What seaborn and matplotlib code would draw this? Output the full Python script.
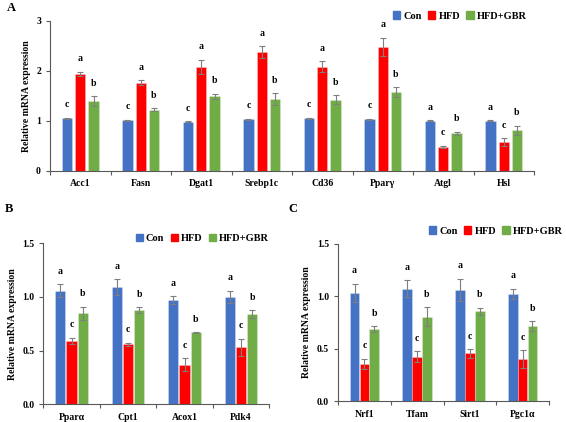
import numpy as np
import pandas as pd
import matplotlib
matplotlib.use("Agg")
import matplotlib.pyplot as plt
import seaborn as sns
from matplotlib.ticker import FixedLocator, FormatStrFormatter

groups = ["Con", "HFD", "HFD+GBR"]
colors = ["#4472C4", "#FF0000", "#70AD47"]

# Panel A
genes_a = ["Acc1", "Fasn", "Dgat1", "Srebp1c", "Cd36", "Ppar\u03b3", "Atgl", "Hsl"]
con_a = [1.05, 1.01, 0.98, 1.03, 1.05, 1.03, 1.00, 1.00]
hfd_a = [1.94, 1.76, 2.08, 2.37, 2.08, 2.48, 0.48, 0.57]
gbr_a = [1.39, 1.22, 1.49, 1.43, 1.42, 1.57, 0.75, 0.81]
con_a_err = [0.01, 0.01, 0.01, 0.01, 0.01, 0.01, 0.01, 0.01]
hfd_a_err = [0.04, 0.05, 0.14, 0.12, 0.11, 0.18, 0.02, 0.08]
gbr_a_err = [0.10, 0.03, 0.05, 0.12, 0.09, 0.10, 0.03, 0.09]
con_a_let = ["c", "c", "c", "c", "c", "c", "a", "a"]
hfd_a_let = ["a", "a", "a", "a", "a", "a", "c", "c"]
gbr_a_let = ["b", "b", "b", "b", "b", "b", "b", "b"]

# Panel B
genes_b = ["Ppar\u03b1", "Cpt1", "Acox1", "Pdk4"]
con_b = [1.06, 1.09, 0.97, 1.00]
hfd_b = [0.59, 0.56, 0.37, 0.53]
gbr_b = [0.85, 0.88, 0.67, 0.84]
con_b_err = [0.06, 0.075, 0.04, 0.06]
hfd_b_err = [0.03, 0.015, 0.06, 0.08]
gbr_b_err = [0.06, 0.025, 0.005, 0.04]

# Panel C
genes_c = ["Nrf1", "Tfam", "Sirt1", "Pgc1\u03b1"]
con_c = [1.03, 1.07, 1.06, 1.02]
hfd_c = [0.355, 0.425, 0.455, 0.40]
gbr_c = [0.685, 0.805, 0.855, 0.715]
con_c_err = [0.09, 0.08, 0.105, 0.05]
hfd_c_err = [0.05, 0.055, 0.04, 0.085]
gbr_c_err = [0.03, 0.09, 0.035, 0.05]

bc_letters = (["a"] * 4, ["c"] * 4, ["b"] * 4)

plt.rcParams['font.family'] = ['Liberation Serif', 'DejaVu Serif']
plt.rcParams['font.weight'] = 'bold'
FS = 7


def make_df(genes, vals, errs):
    rows = []
    for g, v, e in zip(groups, vals, errs):
        for gene, vv, ee in zip(genes, v, e):
            rows.append({"gene": gene, "group": g, "value": vv, "err": ee})
    return pd.DataFrame(rows)


def draw_panel(ax, genes, vals, errs, letters, ymax, yticks, fmt, width, gap, legend_xy):
    df = make_df(genes, vals, errs)
    sns.barplot(data=df, x="gene", y="value", hue="group", order=genes,
                hue_order=groups, palette=colors, errorbar=None,
                width=width, gap=gap, ax=ax, legend=False, saturation=1)
    # error bars and letters, per hue
    for i, (g, v, e, l) in enumerate(zip(groups, vals, errs, letters)):
        cont = ax.containers[i]
        for p in cont.patches:
            p.set_edgecolor((1, 1, 1, 0.35))
            p.set_linewidth(0.5)
        xs = [p.get_x() + p.get_width() / 2 for p in cont.patches]
        ax.errorbar(xs, v, yerr=e, fmt="none", ecolor="#7f7f7f",
                    elinewidth=0.8, capsize=2, capthick=0.8)
        for x, vv, ee, ll in zip(xs, v, e, l):
            ax.annotate(ll, (x, vv + ee), xytext=(0, 6), textcoords="offset points",
                        ha="center", va="bottom", fontsize=FS, fontweight="bold")
    ax.set_ylim(0, ymax)
    ax.set_xlim(-0.5, len(genes) - 0.5)
    ax.set_yticks(yticks)
    ax.yaxis.set_major_formatter(FormatStrFormatter(fmt))
    ax.set_xlabel("")
    ax.set_ylabel("Relative mRNA expression", fontsize=FS, fontweight="bold", labelpad=4)
    ax.tick_params(axis="x", which="major", length=0, labelsize=FS, pad=6)
    ax.xaxis.set_minor_locator(FixedLocator(np.arange(-0.5, len(genes), 1.0)))
    ax.tick_params(axis="x", which="minor", length=3, color="#595959", width=0.8)
    ax.tick_params(axis="y", length=3, labelsize=FS, color="#595959", width=0.8)
    for lab in ax.get_xticklabels() + ax.get_yticklabels():
        lab.set_fontweight("bold")
    sns.despine(ax=ax)
    for s in ["left", "bottom"]:
        ax.spines[s].set_color("#595959")
        ax.spines[s].set_linewidth(0.8)
    handles = [plt.Rectangle((0, 0), 1, 1, color=c) for c in colors]
    ax.legend(handles, groups, loc="lower right", bbox_to_anchor=legend_xy,
              ncol=3, frameon=False, fontsize=7.5, handlelength=0.7,
              handleheight=0.7, handletextpad=0.3, columnspacing=0.6,
              borderaxespad=0, borderpad=0)


W, H = 566, 422
fig = plt.figure(figsize=(W / 100, H / 100), dpi=100)
fig.patch.set_facecolor("white")

axA = fig.add_axes([50 / W, (H - 170.7) / H, 484 / W, 150 / H])
draw_panel(axA, genes_a, [con_a, hfd_a, gbr_a], [con_a_err, hfd_a_err, gbr_a_err],
           [con_a_let, hfd_a_let, gbr_a_let], 3, [0, 1, 2, 3], "%d", 0.66, 0.22,
           (0.985, 1.0))

axB = fig.add_axes([43.3 / W, (H - 404.3) / H, 226 / W, 161 / H])
draw_panel(axB, genes_b, [con_b, hfd_b, gbr_b], [con_b_err, hfd_b_err, gbr_b_err],
           bc_letters, 1.5, [0, 0.5, 1.0, 1.5], "%.1f", 0.6, 0.1, (1.0, 1.0))

axC = fig.add_axes([338 / W, (H - 401.3) / H, 211 / W, 157.7 / H])
draw_panel(axC, genes_c, [con_c, hfd_c, gbr_c], [con_c_err, hfd_c_err, gbr_c_err],
           bc_letters, 1.5, [0, 0.5, 1.0, 1.5], "%.1f", 0.56, 0.02, (1.065, 1.05))

fig.text(7 / W, 1 - 8 / H, "A", fontsize=9, fontweight="bold", va="center")
fig.text(5 / W, 1 - 209 / H, "B", fontsize=9, fontweight="bold", va="center")
fig.text(288 / W, 1 - 209 / H, "C", fontsize=9, fontweight="bold", va="center")

fig.savefig("out.png", dpi=100)
